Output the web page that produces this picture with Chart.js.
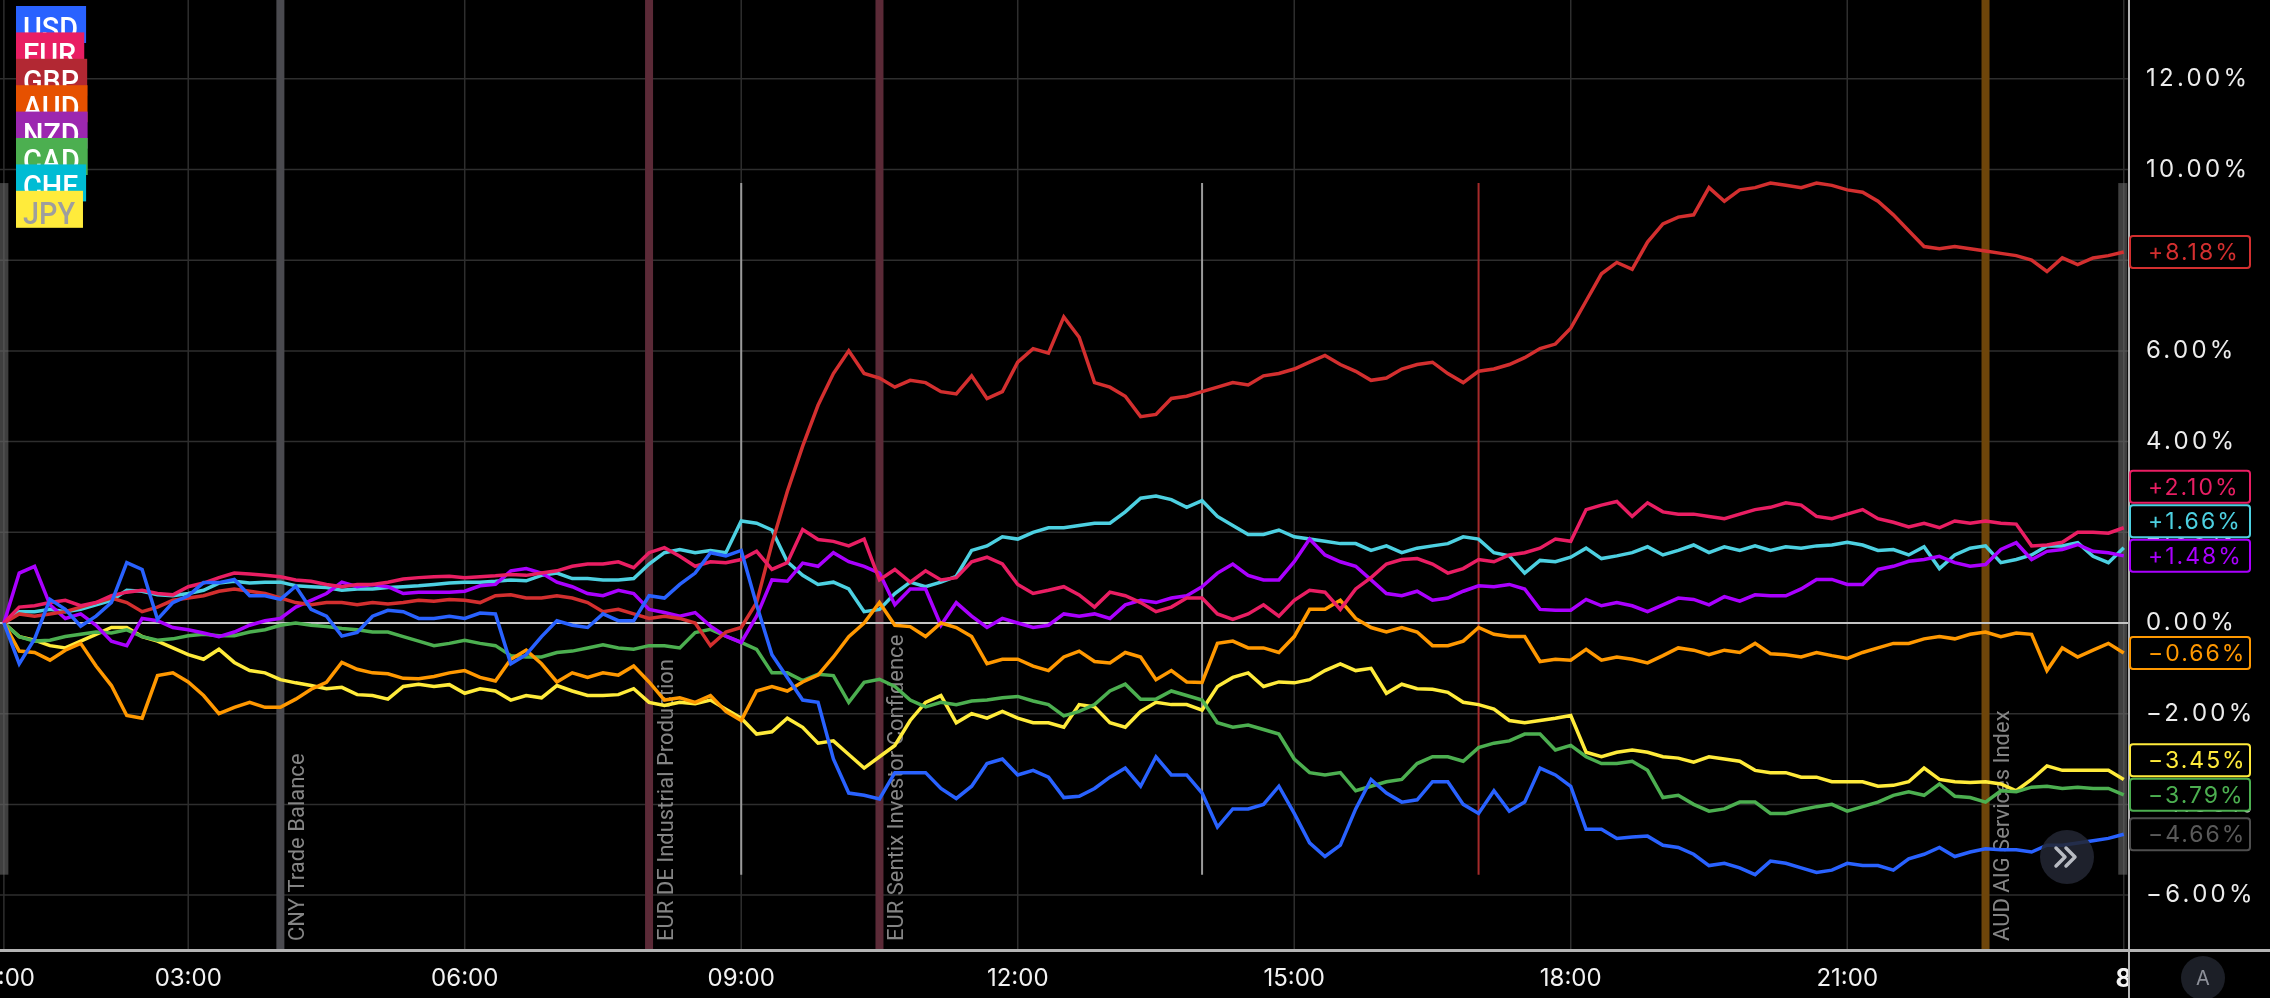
<!DOCTYPE html>
<html><head><meta charset="utf-8">
<script src="https://cdn.jsdelivr.net/npm/chart.js@4.4.1/dist/chart.umd.min.js"></script>
<style>html,body{margin:0;padding:0;background:#000;overflow:hidden}#wrap{width:2270px;height:998px}</style>
</head><body><div id="wrap"><canvas id="c" width="2270" height="998"></canvas></div>
<script>
// ---- categories: time axis (hours since midnight), one point every 10 minutes from 01:00 ----
const START_HOUR = 1;
const STEP_MINUTES = 10;
const currencies = ['USD','EUR','GBP','AUD','NZD','CAD','CHF','JPY'];
const timeTicks = [1,3,6,9,12,15,18,21,24];
const timeTickLabels = ['01:00','03:00','06:00','09:00','12:00','15:00','18:00','21:00','8'];
const yTicks = [-6,-4,-2,0,2,4,6,8,10,12];

// ---- series values (% change) ----
const usd = [
0,-0.9,-0.35,0.52,0.3,-0.07,
0.15,0.45,1.33,1.18,0.08,0.45,
0.6,0.89,0.89,0.96,0.6,0.6,
0.52,0.81,0.3,0.15,-0.29,-0.21,
0.15,0.28,0.25,0.1,0.1,0.15,
0.1,0.22,0.2,-0.9,-0.7,-0.3,
0.05,-0.05,-0.1,0.2,0.05,0.05,
0.6,0.55,0.85,1.1,1.55,1.48,
1.6,0.4,-0.7,-1.2,-1.7,-1.75,
-3.0,-3.75,-3.8,-3.88,-3.3,-3.3,
-3.3,-3.65,-3.87,-3.6,-3.1,-3.0,
-3.35,-3.25,-3.4,-3.85,-3.82,-3.65,
-3.4,-3.2,-3.6,-2.95,-3.35,-3.35,
-3.75,-4.5,-4.1,-4.1,-4.0,-3.6,
-4.2,-4.85,-5.15,-4.9,-4.1,-3.45,
-3.75,-3.95,-3.9,-3.5,-3.5,-4.0,
-4.2,-3.7,-4.15,-3.95,-3.2,-3.35,
-3.6,-4.55,-4.55,-4.75,-4.72,-4.7,
-4.9,-4.95,-5.1,-5.35,-5.3,-5.4,
-5.55,-5.25,-5.3,-5.4,-5.5,-5.45,
-5.3,-5.35,-5.35,-5.45,-5.2,-5.1,
-4.95,-5.15,-5.05,-4.98,-5.0,-5.0,
-5.05,-4.9,-4.9,-4.85,-4.8,-4.75,
-4.66];
const eur = [
0,0.35,0.38,0.45,0.5,0.38,
0.45,0.6,0.68,0.72,0.65,0.62,
0.8,0.88,1.0,1.1,1.08,1.05,
1.02,0.95,0.92,0.85,0.8,0.85,
0.85,0.9,0.97,1.0,1.02,1.03,
1.0,1.02,1.04,1.07,1.05,1.1,
1.15,1.25,1.3,1.3,1.35,1.22,
1.55,1.66,1.47,1.25,1.35,1.33,
1.4,1.58,1.18,1.33,2.06,1.84,
1.8,1.7,1.85,0.95,1.18,0.9,
1.15,0.95,1.0,1.35,1.45,1.3,
0.85,0.65,0.72,0.8,0.62,0.35,
0.68,0.6,0.45,0.25,0.35,0.55,
0.55,0.2,0.08,0.2,0.4,0.15,
0.5,0.72,0.68,0.3,0.75,1.0,
1.3,1.4,1.42,1.3,1.1,1.2,
1.4,1.35,1.5,1.55,1.65,1.85,
1.8,2.5,2.6,2.68,2.35,2.65,
2.45,2.4,2.4,2.35,2.3,2.4,
2.5,2.55,2.65,2.6,2.35,2.3,
2.4,2.5,2.3,2.22,2.12,2.2,
2.1,2.25,2.2,2.25,2.2,2.18,
1.7,1.72,1.78,2.0,2.0,1.98,
2.1];
const gbp = [
0,0.2,0.15,0.2,0.25,0.35,
0.45,0.55,0.45,0.25,0.35,0.5,
0.55,0.6,0.7,0.75,0.7,0.65,
0.55,0.45,0.4,0.45,0.45,0.4,
0.45,0.42,0.45,0.5,0.48,0.52,
0.5,0.45,0.6,0.62,0.55,0.55,
0.6,0.55,0.45,0.25,0.3,0.2,
0.1,0.15,0.1,0.0,-0.5,-0.2,
-0.1,0.45,1.75,2.9,3.9,4.8,
5.5,6.0,5.5,5.4,5.2,5.35,
5.3,5.1,5.05,5.45,4.95,5.1,
5.75,6.05,5.95,6.75,6.3,5.3,
5.2,5.0,4.55,4.6,4.95,5.0,
5.1,5.2,5.3,5.25,5.45,5.5,
5.6,5.75,5.9,5.7,5.55,5.35,
5.4,5.6,5.7,5.75,5.5,5.3,
5.55,5.6,5.7,5.85,6.05,6.15,
6.5,7.1,7.7,7.95,7.8,8.4,
8.8,8.95,9.0,9.6,9.3,9.55,
9.6,9.7,9.65,9.6,9.7,9.65,
9.55,9.5,9.3,9.0,8.65,8.3,
8.25,8.3,8.25,8.2,8.15,8.1,
8.0,7.75,8.05,7.9,8.05,8.1,
8.18];
const aud = [
0,-0.62,-0.65,-0.82,-0.6,-0.45,
-0.95,-1.38,-2.04,-2.1,-1.16,-1.1,
-1.3,-1.6,-2.0,-1.86,-1.75,-1.86,
-1.86,-1.68,-1.46,-1.31,-0.87,-1.02,
-1.1,-1.12,-1.22,-1.23,-1.18,-1.1,
-1.05,-1.2,-1.28,-0.8,-0.6,-0.9,
-1.3,-1.1,-1.2,-1.1,-1.15,-0.95,
-1.3,-1.7,-1.65,-1.75,-1.6,-1.95,
-2.15,-1.5,-1.4,-1.5,-1.3,-1.15,
-0.75,-0.3,0.0,0.45,-0.05,-0.08,
-0.3,0.0,-0.1,-0.3,-0.9,-0.8,
-0.8,-0.95,-1.05,-0.75,-0.62,-0.85,
-0.88,-0.65,-0.75,-1.25,-1.05,-1.3,
-1.31,-0.45,-0.4,-0.55,-0.55,-0.65,
-0.3,0.3,0.3,0.5,0.1,-0.1,
-0.2,-0.1,-0.2,-0.5,-0.5,-0.4,
-0.1,-0.25,-0.3,-0.3,-0.85,-0.8,
-0.82,-0.58,-0.82,-0.75,-0.8,-0.88,
-0.72,-0.55,-0.6,-0.7,-0.6,-0.65,
-0.45,-0.68,-0.7,-0.75,-0.65,-0.72,
-0.78,-0.65,-0.55,-0.45,-0.45,-0.35,
-0.3,-0.35,-0.25,-0.2,-0.3,-0.22,
-0.25,-1.05,-0.55,-0.75,-0.6,-0.45,
-0.66];
const nzd = [
0,1.1,1.25,0.4,0.1,0.2,
-0.05,-0.4,-0.5,0.1,0.05,-0.1,
-0.15,-0.22,-0.3,-0.2,-0.05,0.05,
0.1,0.35,0.5,0.65,0.9,0.8,
0.85,0.8,0.65,0.68,0.68,0.68,
0.7,0.82,0.85,1.15,1.2,1.1,
0.9,0.8,0.65,0.6,0.72,0.65,
0.3,0.23,0.15,0.23,-0.07,-0.29,
-0.43,0.15,0.95,0.92,1.32,1.25,
1.55,1.35,1.25,1.1,0.4,0.75,
0.75,-0.05,0.45,0.15,-0.1,0.1,
0.0,-0.1,-0.05,0.2,0.15,0.2,
0.1,0.4,0.5,0.45,0.55,0.6,
0.8,1.1,1.3,1.05,0.95,0.95,
1.35,1.85,1.5,1.35,1.25,0.95,
0.65,0.6,0.7,0.5,0.55,0.7,
0.82,0.8,0.85,0.75,0.3,0.28,
0.28,0.52,0.38,0.45,0.38,0.25,
0.4,0.55,0.52,0.4,0.58,0.48,
0.62,0.6,0.6,0.75,0.96,0.96,
0.85,0.85,1.18,1.25,1.36,1.4,
1.47,1.33,1.25,1.29,1.62,1.77,
1.4,1.58,1.62,1.73,1.58,1.55,
1.48];
const cad = [
0,-0.3,-0.4,-0.38,-0.3,-0.25,
-0.2,-0.22,-0.15,-0.3,-0.38,-0.35,
-0.28,-0.25,-0.28,-0.28,-0.2,-0.15,
-0.05,0.0,-0.05,-0.08,-0.12,-0.15,
-0.2,-0.2,-0.3,-0.4,-0.5,-0.45,
-0.38,-0.45,-0.5,-0.72,-0.75,-0.75,
-0.65,-0.62,-0.55,-0.48,-0.55,-0.58,
-0.5,-0.5,-0.55,-0.21,-0.14,-0.29,
-0.43,-0.58,-1.1,-1.1,-1.27,-1.13,
-1.16,-1.75,-1.31,-1.24,-1.4,-1.7,
-1.85,-1.75,-1.8,-1.72,-1.7,-1.65,
-1.62,-1.72,-1.8,-2.05,-1.95,-1.8,
-1.5,-1.35,-1.68,-1.68,-1.5,-1.6,
-1.7,-2.2,-2.3,-2.25,-2.35,-2.45,
-3.0,-3.3,-3.35,-3.3,-3.7,-3.6,
-3.5,-3.45,-3.1,-2.95,-2.95,-3.05,
-2.75,-2.65,-2.6,-2.45,-2.45,-2.8,
-2.7,-2.95,-3.1,-3.1,-3.05,-3.25,
-3.85,-3.8,-4.0,-4.15,-4.1,-3.95,
-3.95,-4.2,-4.2,-4.12,-4.05,-4.0,
-4.15,-4.05,-3.95,-3.8,-3.72,-3.8,
-3.55,-3.82,-3.85,-3.95,-3.7,-3.72,
-3.62,-3.6,-3.65,-3.62,-3.65,-3.65,
-3.79];
const chf = [
0,0.25,0.25,0.3,0.25,0.3,
0.4,0.5,0.72,0.7,0.62,0.6,
0.65,0.72,0.88,0.92,0.88,0.9,
0.9,0.82,0.8,0.78,0.72,0.75,
0.75,0.78,0.8,0.82,0.85,0.88,
0.9,0.9,0.92,0.95,0.93,1.05,
1.1,0.98,0.98,0.95,0.95,0.98,
1.3,1.55,1.62,1.55,1.6,1.55,
2.25,2.2,2.05,1.35,1.05,0.85,
0.9,0.75,0.25,0.3,0.65,0.9,
0.8,0.9,1.03,1.6,1.7,1.9,
1.85,2.0,2.1,2.1,2.15,2.2,
2.2,2.45,2.75,2.8,2.72,2.55,
2.7,2.35,2.15,1.95,1.95,2.05,
1.9,1.85,1.8,1.75,1.75,1.6,
1.7,1.55,1.65,1.7,1.75,1.9,
1.85,1.55,1.48,1.1,1.38,1.35,
1.45,1.65,1.42,1.48,1.55,1.68,
1.5,1.6,1.72,1.55,1.68,1.6,
1.7,1.6,1.68,1.65,1.7,1.72,
1.78,1.72,1.6,1.62,1.5,1.68,
1.2,1.5,1.65,1.7,1.33,1.4,
1.5,1.7,1.7,1.77,1.47,1.33,
1.66];
const jpy = [
0,-0.3,-0.38,-0.5,-0.55,-0.4,
-0.25,-0.1,-0.1,-0.3,-0.4,-0.55,
-0.7,-0.8,-0.58,-0.87,-1.05,-1.1,
-1.25,-1.32,-1.38,-1.45,-1.42,-1.58,
-1.6,-1.68,-1.4,-1.35,-1.4,-1.36,
-1.55,-1.45,-1.5,-1.7,-1.6,-1.65,
-1.38,-1.5,-1.6,-1.6,-1.58,-1.45,
-1.75,-1.82,-1.75,-1.78,-1.7,-1.9,
-2.1,-2.45,-2.4,-2.1,-2.3,-2.65,
-2.6,-2.9,-3.2,-2.95,-2.7,-2.15,
-1.75,-1.6,-2.2,-2.0,-2.1,-1.95,
-2.1,-2.2,-2.2,-2.3,-1.8,-1.85,
-2.2,-2.3,-1.95,-1.75,-1.8,-1.8,
-1.92,-1.4,-1.2,-1.1,-1.4,-1.3,
-1.32,-1.25,-1.05,-0.9,-1.05,-1.0,
-1.55,-1.35,-1.45,-1.46,-1.53,-1.75,
-1.8,-1.9,-2.15,-2.2,-2.15,-2.1,
-2.04,-2.85,-2.95,-2.85,-2.8,-2.85,
-2.95,-2.98,-3.07,-2.95,-3.0,-3.05,
-3.25,-3.3,-3.3,-3.4,-3.4,-3.5,
-3.5,-3.5,-3.6,-3.58,-3.5,-3.2,
-3.45,-3.5,-3.52,-3.5,-3.55,-3.7,
-3.45,-3.15,-3.25,-3.25,-3.25,-3.25,
-3.45];

// ---- last-value labels ----
const lastValues = [-4.66, 2.10, 8.18, -0.66, 1.48, -3.79, 1.66, -3.45];

// ---- economic events & session markers ----
const eventTimes = [4.0, 8.0, 10.5, 22.5];
const eventNames = ['CNY Trade Balance','EUR DE Industrial Production','EUR Sentix Investor Confidence','AUD AIG Services Index'];
const sessionTimes = [9, 14, 17];

// ---- styles ----
const lineColors = ['#2962ff','#e91e63','#d32f2f','#ff9800','#aa00ff','#4caf50','#4dd0e1','#ffeb3b'];
const legendBg = ['#2962ff','#e91e63','#b22833','#e65100','#9c27b0','#4caf50','#00bcd4','#ffeb3b'];
const legendFg = ['#fff','#fff','#fff','#fff','#fff','#fff','#fff','#9e9e9e'];
const eventColors = ['#4a4a4f','#5b2a37','#5b2a37','#6e450a'];
const sessionColors = ['#9a9a9a','#9a9a9a','#a52a2a'];

const seriesList = [usd, eur, gbp, aud, nzd, cad, chf, jpy];
const toPoints = arr => arr.map((v, i) => ({x: START_HOUR + i * STEP_MINUTES / 60, y: v}));

const fmtPct = v => (v < 0 ? '\u2212' : (v > 0 ? '+' : '')) + Math.abs(v).toFixed(2) + '%';
const fmtTick = v => (v < 0 ? '\u2212' : '') + Math.abs(v).toFixed(2) + '%';

const decor = {
  id: 'decor',
  beforeDraw(chart) {
    const ctx = chart.ctx;
    ctx.save(); ctx.fillStyle = '#000'; ctx.fillRect(0, 0, chart.width, chart.height); ctx.restore();
  },
  beforeDatasetsDraw(chart) {
    const {ctx, chartArea: a, scales: {x, y}} = chart;
    ctx.save();
    ctx.strokeStyle = '#2e2e2e'; ctx.lineWidth = 1.5;
    yTicks.forEach(v => {
      if (v === 0) return;
      const py = y.getPixelForValue(v);
      ctx.beginPath(); ctx.moveTo(a.left, py); ctx.lineTo(a.right, py); ctx.stroke();
    });
    timeTicks.forEach(t => {
      const px = x.getPixelForValue(t);
      ctx.beginPath(); ctx.moveTo(px, a.top); ctx.lineTo(px, a.bottom); ctx.stroke();
    });
    eventTimes.forEach((t, i) => {
      const px = x.getPixelForValue(t);
      ctx.fillStyle = eventColors[i];
      ctx.fillRect(px - 4, a.top, 8, a.bottom - a.top);
    });
    ctx.fillStyle = '#858585';
    ctx.font = '22px Roboto';
    ctx.textBaseline = 'middle'; ctx.textAlign = 'left';
    eventTimes.forEach((t, i) => {
      const px = x.getPixelForValue(t);
      ctx.save();
      ctx.translate(px + 18, a.bottom - 9);
      ctx.rotate(-Math.PI / 2);
      ctx.fillText(eventNames[i], 0, 0);
      ctx.restore();
    });
    let mx = -Infinity, mn = Infinity;
    seriesList.forEach(s => s.forEach(v => { if (v > mx) mx = v; if (v < mn) mn = v; }));
    const yTop = y.getPixelForValue(mx), yBot = y.getPixelForValue(mn);
    sessionTimes.forEach((t, i) => {
      const px = x.getPixelForValue(t);
      ctx.strokeStyle = sessionColors[i]; ctx.lineWidth = 2;
      ctx.beginPath(); ctx.moveTo(px, yTop); ctx.lineTo(px, yBot); ctx.stroke();
    });
    ctx.fillStyle = 'rgba(105,105,105,0.6)';
    const xs = x.getPixelForValue(START_HOUR), xe = x.getPixelForValue(24);
    ctx.fillRect(xs - 4.5, yTop, 9, yBot - yTop);
    ctx.fillRect(xe - 5.5, yTop, 9, yBot - yTop);
    const y0 = y.getPixelForValue(0);
    ctx.strokeStyle = '#c4c4c4'; ctx.lineWidth = 2;
    ctx.beginPath(); ctx.moveTo(a.left, y0); ctx.lineTo(a.right, y0); ctx.stroke();
    ctx.restore();
  },
  afterDatasetsDraw(chart) {
    const {ctx, chartArea: a, scales: {x, y}} = chart;
    ctx.save();
    // x labels
    ctx.save();
    ctx.beginPath(); ctx.rect(0, a.bottom, a.right, chart.height - a.bottom); ctx.clip();
    ctx.fillStyle = '#f2f2f2'; ctx.textAlign = 'center'; ctx.textBaseline = 'middle';
    timeTicks.forEach((t, i) => {
      ctx.font = (i === timeTicks.length - 1) ? 'bold 25px Inter' : '24px Inter';
      ctx.fillText(timeTickLabels[i], x.getPixelForValue(t), 979);
    });
    ctx.restore();
    // axis lines
    ctx.strokeStyle = '#b4b4b4'; ctx.lineWidth = 3;
    ctx.beginPath(); ctx.moveTo(0, a.bottom + 0.5); ctx.lineTo(chart.width, a.bottom + 0.5); ctx.stroke();
    ctx.lineWidth = 2;
    ctx.beginPath(); ctx.moveTo(a.right + 1, 0); ctx.lineTo(a.right + 1, chart.height); ctx.stroke();
    // y tick labels
    ctx.fillStyle = '#ececec'; ctx.font = '24px Inter'; ctx.textAlign = 'left'; ctx.textBaseline = 'middle';
    if ('letterSpacing' in ctx) ctx.letterSpacing = '3.3px';
    yTicks.forEach(v => ctx.fillText(fmtTick(v), 2146, y.getPixelForValue(v)));
    // last value labels, stacked bottom-up to avoid overlap
    ctx.font = '23px Inter';
    if ('letterSpacing' in ctx) ctx.letterSpacing = '2px';
    const H = 32, GAP = 34.5;
    const order = lastValues.map((v, i) => i).sort((p, q) => lastValues[p] - lastValues[q]);
    const pos = {};
    let prev = Infinity;
    order.forEach(i => {
      let py = y.getPixelForValue(lastValues[i]);
      if (py > prev - GAP) py = prev - GAP;
      pos[i] = py; prev = py;
    });
    order.forEach(i => {
      const py = pos[i];
      const isUsd = i === 0;
      const col = isUsd ? '#4e4e4e' : lineColors[i];
      ctx.fillStyle = '#000';
      ctx.fillRect(a.right + 2, py - H / 2, 120, H);
      ctx.strokeStyle = col; ctx.lineWidth = 2;
      ctx.beginPath(); ctx.roundRect(a.right + 2, py - H / 2, 120, H, 3); ctx.stroke();
      ctx.fillStyle = isUsd ? '#5a5a5a' : lineColors[i];
      ctx.fillText(fmtPct(lastValues[i]), 2148, py + 1);
    });
    if ('letterSpacing' in ctx) ctx.letterSpacing = '0px';
    // legend (overlapping tags)
    ctx.font = '500 32px Roboto'; ctx.textAlign = 'left'; ctx.textBaseline = 'alphabetic';
    currencies.forEach((c, i) => {
      const top = 6 + i * 26.4;
      const tw = ctx.measureText(c).width * 0.9;
      ctx.fillStyle = legendBg[i];
      ctx.fillRect(16, top, tw + 15, 37);
      ctx.fillStyle = legendFg[i];
      ctx.save();
      ctx.translate(23, top + 33);
      ctx.scale(0.9, 1);
      ctx.fillText(c, 0, 0);
      ctx.restore();
    });
    // scroll button
    ctx.fillStyle = 'rgba(34,38,50,0.88)';
    ctx.beginPath(); ctx.arc(2067, 857, 27, 0, Math.PI * 2); ctx.fill();
    ctx.strokeStyle = '#b8bbc2'; ctx.lineWidth = 3.5; ctx.lineCap = 'round'; ctx.lineJoin = 'round';
    [2056, 2066].forEach(cx => {
      ctx.beginPath(); ctx.moveTo(cx, 848); ctx.lineTo(cx + 9, 857); ctx.lineTo(cx, 866); ctx.stroke();
    });
    // auto-scale button
    ctx.fillStyle = '#1c1f27';
    ctx.beginPath(); ctx.arc(2203, 978, 22, 0, Math.PI * 2); ctx.fill();
    ctx.fillStyle = '#8d9099'; ctx.font = '20px Inter'; ctx.textAlign = 'center'; ctx.textBaseline = 'middle';
    ctx.fillText('A', 2203, 979);
    ctx.restore();
  }
};

new Chart(document.getElementById('c'), {
  type: 'line',
  data: {
    datasets: currencies.map((c, i) => ({
      label: c,
      data: toPoints(seriesList[i]),
      borderColor: lineColors[i],
      backgroundColor: lineColors[i],
      borderWidth: 3.5,
      pointRadius: 0,
      tension: 0,
      fill: false
    }))
  },
  options: {
    responsive: false,
    animation: false,
    devicePixelRatio: 1,
    layout: {padding: {left: 0, top: 0, right: 142, bottom: 48}},
    scales: {
      x: {type: 'linear', display: false, min: 0.958, max: 24.046},
      y: {type: 'linear', display: false, min: -7.211, max: 13.737}
    },
    plugins: {legend: {display: false}, tooltip: {enabled: false}}
  },
  plugins: [decor]
});
</script>
</body></html>
